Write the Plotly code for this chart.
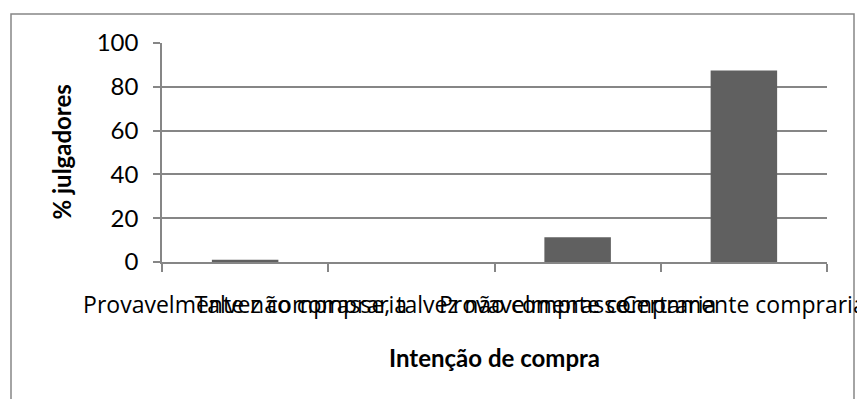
import plotly.graph_objects as go

categories = [
    "Provavelmente não compraria",
    "Talvez comprasse, talvez não comprasse",
    "Provavelmente compraria",
    "Certamente compraria",
]
values = [1.0, 0.0, 11.3, 87.4]
y_ticks = [0, 20, 40, 60, 80, 100]
x_title = "Intenção de compra"
y_title = "% julgadores"

W, H = 857, 399
L, R, T, B = 162, 30, 43, 137
pw, ph = W - L - R, H - T - B

def px_x(p):
    return (p - L) / pw

def px_y(p):
    return (H - B - p) / ph

grey = "#868686"

fig = go.Figure(
    go.Bar(
        x=categories,
        y=values,
        marker=dict(color="#606060", line=dict(width=0)),
        hoverinfo="skip",
    )
)

fig.update_layout(
    width=W,
    height=H,
    margin=dict(l=L, r=R, t=T, b=B, pad=0, autoexpand=False),
    paper_bgcolor="white",
    plot_bgcolor="white",
    bargap=0.6,
    showlegend=False,
    font=dict(family="Open Sans", color="#000000"),
)

fig.update_xaxes(
    type="category",
    range=[-0.5, 3.5],
    automargin=False,
    showline=True,
    linecolor=grey,
    linewidth=1.5,
    ticks="outside",
    tickson="boundaries",
    ticklen=8,
    tickcolor=grey,
    tickwidth=1.5,
    tickangle=0,
    tickfont=dict(family="Open Sans", size=23, color="#000000"),
    ticklabelstandoff=22,
    showgrid=False,
    zeroline=False,
)

fig.update_yaxes(
    range=[0, 100],
    automargin=False,
    tickvals=y_ticks,
    ticktext=[str(v) for v in y_ticks],
    showline=True,
    linecolor=grey,
    linewidth=1.5,
    ticks="outside",
    ticklen=7,
    tickcolor=grey,
    tickwidth=1.5,
    tickfont=dict(family="Lato", size=24, color="#000000"),
    ticklabelstandoff=10,
    showgrid=True,
    gridcolor=grey,
    gridwidth=1.5,
    zeroline=False,
)

fig.add_annotation(
    text="<b>" + x_title + "</b>",
    xref="paper", yref="paper",
    x=0.5, y=px_y(357),
    xanchor="center", yanchor="middle",
    showarrow=False,
    font=dict(family="Lato", size=24, color="#000000"),
)
fig.add_annotation(
    text="<b>" + y_title + "</b>",
    xref="paper", yref="paper",
    x=px_x(61), y=0.5,
    xanchor="center", yanchor="middle",
    textangle=-90,
    showarrow=False,
    font=dict(family="Lato", size=24, color="#000000"),
)

fig.add_shape(
    type="rect",
    xref="paper", yref="paper",
    x0=px_x(11), x1=px_x(854),
    y0=px_y(420), y1=px_y(14),
    line=dict(color=grey, width=1.5),
    fillcolor="rgba(0,0,0,0)",
    layer="below",
)

fig.write_html("out.html")
